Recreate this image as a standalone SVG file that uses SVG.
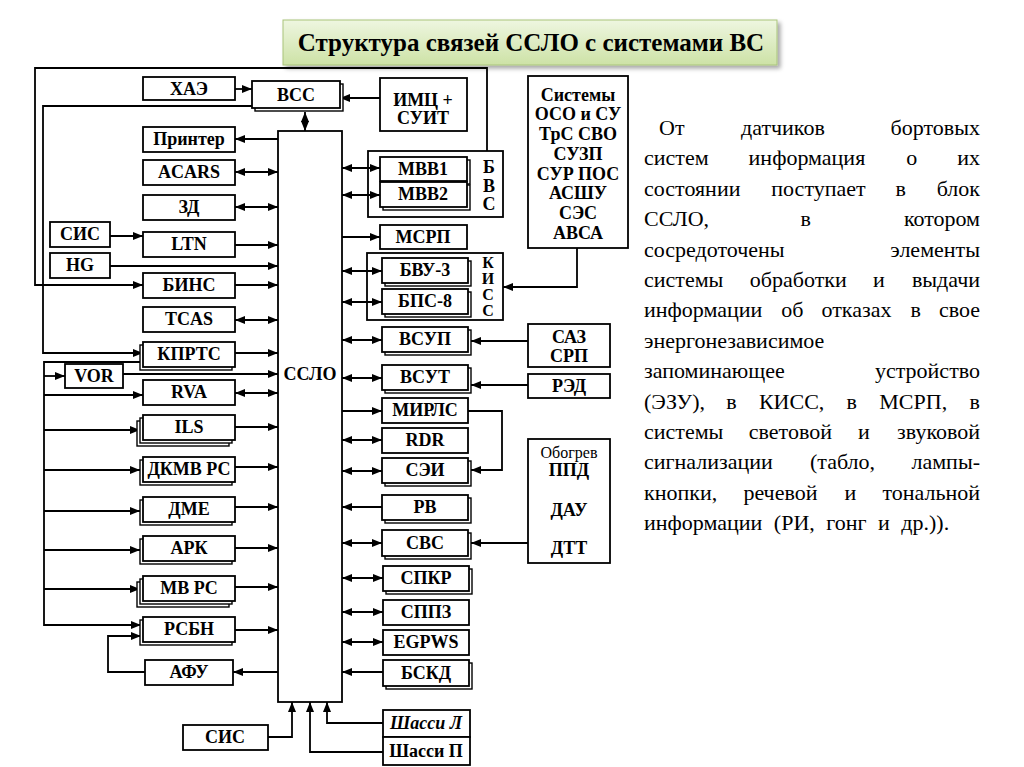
<svg xmlns="http://www.w3.org/2000/svg" width="1024" height="767" viewBox="0 0 1024 767">
<defs>
<linearGradient id="tg" x1="0" y1="0" x2="0" y2="1"><stop offset="0" stop-color="#eef6e0"/><stop offset="1" stop-color="#cde2a6"/></linearGradient>
<filter id="sh" x="-5%" y="-20%" width="115%" height="160%"><feDropShadow dx="3" dy="3" stdDeviation="2" flood-color="#000" flood-opacity="0.35"/></filter>
<marker id="a" viewBox="0 0 10 8" refX="10" refY="4" markerWidth="10" markerHeight="8" orient="auto-start-reverse" markerUnits="userSpaceOnUse"><path d="M0,0 L10,4 L0,8 z" fill="#000"/></marker>
<style>
.b{fill:#fff;stroke:#000;stroke-width:1.8}
.s{fill:#fff;stroke:#000;stroke-width:1.4}
.g{fill:none;stroke:#000;stroke-width:1.8}
.t{font-family:"Liberation Serif","Times New Roman",serif;font-weight:bold;font-size:18px;text-anchor:middle;fill:#000}
.tr{font-family:"Liberation Serif","Times New Roman",serif;font-size:16px;text-anchor:middle;fill:#000}
.v{font-family:"Liberation Serif","Times New Roman",serif;font-weight:bold;font-size:16px;text-anchor:middle;fill:#000}
.p{font-family:"Liberation Serif","Times New Roman",serif;font-size:22px;fill:#000}
.c{fill:none;stroke:#000;stroke-width:1.8}
.e{marker-end:url(#a)}
.d{marker-start:url(#a);marker-end:url(#a)}
</style>
</defs>
<rect width="1024" height="767" fill="#fff"/>

<g id="title">
<rect x="283" y="20" width="494" height="45" fill="url(#tg)" stroke="#a9c47a" stroke-width="1" filter="url(#sh)"/>
<text x="531" y="51" style="font-family:'Liberation Serif','Times New Roman',serif;font-weight:bold;font-size:25px;text-anchor:middle">Структура связей ССЛО с системами ВС</text>
</g>

<g id="connectors">
<path class="c" d="M487,151 V68 H35 V285 H143" marker-end="url(#a)"/>
<path class="c" d="M252,106 H43 V353 H143" marker-end="url(#a)"/>
<path class="c e" d="M235,89 H252"/>
<path class="c e" d="M380,98 H340"/>
<path class="c d" d="M305,112 V131"/>
<path class="c e" d="M278,139 H235"/>
<path class="c d" d="M235,172 H278"/>
<path class="c d" d="M235,207 H278"/>
<path class="c e" d="M110,236 H143"/>
<path class="c e" d="M235,245 H278"/>
<path class="c e" d="M110,266 H278"/>
<path class="c e" d="M235,285 H278"/>
<path class="c d" d="M235,320 H278"/>
<path class="c e" d="M235,353 H278"/>
<path class="c" d="M141,362 H44 V625 H141" marker-end="url(#a)"/>
<path class="c e" d="M44,376 H65"/>
<path class="c e" d="M44,395 H143"/>
<path class="c e" d="M44,430 H140"/>
<path class="c e" d="M44,470 H140"/>
<path class="c e" d="M44,511 H140"/>
<path class="c e" d="M44,550 H140"/>
<path class="c e" d="M44,589 H140"/>
<path class="c e" d="M123,374 H278"/>
<path class="c d" d="M235,393 H278"/>
<path class="c e" d="M235,427 H278"/>
<path class="c e" d="M235,467 H278"/>
<path class="c e" d="M235,507 H278"/>
<path class="c e" d="M235,548 H278"/>
<path class="c e" d="M235,587 H278"/>
<path class="c e" d="M235,630 H278"/>
<path class="c e" d="M278,672 H233"/>
<path class="c" d="M145,672 H108 V636 H141" marker-end="url(#a)"/>
<path class="c" d="M268,737 H292 V702" marker-end="url(#a)"/>
<path class="c" d="M383,752 H310 V702" marker-end="url(#a)"/>
<path class="c" d="M383,723 H327 V702" marker-end="url(#a)"/>
<path class="c d" d="M342,168 H380"/>
<path class="c d" d="M342,195 H380"/>
<path class="c e" d="M342,237 H380"/>
<path class="c d" d="M342,271 H382"/>
<path class="c d" d="M342,302 H382"/>
<path class="c" d="M577,248 V287 H503" marker-end="url(#a)"/>
<path class="c d" d="M342,340 H382"/>
<path class="c e" d="M528,341 H471"/>
<path class="c d" d="M342,378 H382"/>
<path class="c e" d="M528,385 H471"/>
<path class="c e" d="M342,411 H382"/>
<path class="c" d="M468,411 H502 V470 H471" marker-end="url(#a)"/>
<path class="c d" d="M342,440 H382"/>
<path class="c d" d="M342,471 H382"/>
<path class="c e" d="M382,507 H342"/>
<path class="c d" d="M342,543 H382"/>
<path class="c e" d="M528,543 H471"/>
<path class="c d" d="M342,578 H383"/>
<path class="c d" d="M342,612 H383"/>
<path class="c d" d="M342,642 H383"/>
<path class="c e" d="M383,672 H342"/>
</g>

<g id="n-sslo"><rect class="b" x="278" y="131" width="64" height="571"/><text class="t" x="310" y="380">ССЛО</text></g>
<g id="n-hae"><rect class="b" x="143" y="77" width="92" height="23"/><text class="t" x="189" y="95">ХАЭ</text></g>
<g id="n-vss"><rect class="s" x="255" y="84" width="88" height="27"/><rect class="b" x="252" y="81" width="88" height="27"/><text class="t" x="296" y="101">ВСС</text></g>
<g id="n-imc"><rect class="b" x="380" y="78" width="87" height="53"/><text class="t" x="423" y="106">ИМЦ +</text><text class="t" x="423" y="124">СУИТ</text></g>
<g id="n-printer"><rect class="b" x="143" y="127" width="92" height="25"/><text class="t" x="189" y="145">Принтер</text></g>
<g id="n-acars"><rect class="b" x="143" y="160" width="92" height="25"/><text class="t" x="189" y="178">ACARS</text></g>
<g id="n-zd"><rect class="b" x="143" y="195" width="92" height="25"/><text class="t" x="189" y="213">ЗД</text></g>
<g id="n-sis1"><rect class="b" x="50" y="222" width="60" height="25"/><text class="t" x="80" y="240">СИС</text></g>
<g id="n-ltn"><rect class="b" x="143" y="232" width="92" height="25"/><text class="t" x="189" y="250">LTN</text></g>
<g id="n-hg"><rect class="b" x="50" y="253" width="60" height="25"/><text class="t" x="80" y="271">HG</text></g>
<g id="n-bins"><rect class="b" x="143" y="273" width="92" height="25"/><text class="t" x="189" y="291">БИНС</text></g>
<g id="n-tcas"><rect class="b" x="143" y="307" width="92" height="25"/><text class="t" x="189" y="325">TCAS</text></g>
<g id="n-kprts"><rect class="s" x="140" y="345" width="92" height="25"/><rect class="b" x="143" y="342" width="92" height="25"/><text class="t" x="189" y="360">КПРТС</text></g>
<g id="n-vor"><rect class="b" x="65" y="364" width="58" height="24"/><text class="t" x="94" y="382">VOR</text></g>
<g id="n-rva"><rect class="b" x="143" y="380" width="92" height="25"/><text class="t" x="189" y="398">RVA</text></g>
<g id="n-ils"><rect class="s" x="137" y="421" width="92" height="25"/><rect class="s" x="140" y="418" width="92" height="25"/><rect class="b" x="143" y="415" width="92" height="25"/><text class="t" x="189" y="433">ILS</text></g>
<g id="n-dkmv"><rect class="s" x="140" y="460" width="92" height="25"/><rect class="b" x="143" y="457" width="92" height="25"/><text class="t" x="189" y="475">ДКМВ РС</text></g>
<g id="n-dme"><rect class="s" x="140" y="500" width="92" height="25"/><rect class="b" x="143" y="497" width="92" height="25"/><text class="t" x="189" y="515">ДМЕ</text></g>
<g id="n-ark"><rect class="s" x="140" y="539" width="92" height="25"/><rect class="b" x="143" y="536" width="92" height="25"/><text class="t" x="189" y="554">АРК</text></g>
<g id="n-mvrs"><rect class="s" x="137" y="582" width="92" height="25"/><rect class="s" x="140" y="579" width="92" height="25"/><rect class="b" x="143" y="576" width="92" height="25"/><text class="t" x="189" y="594">МВ РС</text></g>
<g id="n-rsbn"><rect class="s" x="140" y="620" width="92" height="25"/><rect class="b" x="143" y="617" width="92" height="25"/><text class="t" x="189" y="635">РСБН</text></g>
<g id="n-afu"><rect class="b" x="145" y="660" width="88" height="25"/><text class="t" x="189" y="678">АФУ</text></g>
<g id="n-sis2"><rect class="b" x="183" y="725" width="85" height="25"/><text class="t" x="225" y="743">СИС</text></g>

<g id="n-bvs"><rect class="g" x="368" y="151" width="135" height="66"/><text class="t" x="489" y="173">Б</text><text class="t" x="489" y="192">В</text><text class="t" x="489" y="210">С</text></g>
<g id="n-mvv1"><rect class="s" x="383" y="160" width="87" height="24"/><rect class="b" x="380" y="157" width="87" height="24"/><text class="t" x="423" y="175">МВВ1</text></g>
<g id="n-mvv2"><rect class="s" x="383" y="185" width="87" height="25"/><rect class="b" x="380" y="182" width="87" height="25"/><text class="t" x="423" y="200">МВВ2</text></g>
<g id="n-msrp"><rect class="b" x="380" y="225" width="87" height="24"/><text class="t" x="423" y="243">МСРП</text></g>
<g id="n-kiss"><rect class="g" x="367" y="253" width="136" height="67"/><text class="v" x="488" y="268">К</text><text class="v" x="488" y="284">И</text><text class="v" x="488" y="300">С</text><text class="v" x="488" y="316">С</text></g>
<g id="n-bvu"><rect class="s" x="385" y="261" width="86" height="25"/><rect class="b" x="382" y="258" width="86" height="25"/><text class="t" x="425" y="276">БВУ-3</text></g>
<g id="n-bps"><rect class="s" x="385" y="292" width="86" height="25"/><rect class="b" x="382" y="289" width="86" height="25"/><text class="t" x="425" y="307">БПС-8</text></g>
<g id="n-vsup"><rect class="s" x="385" y="330" width="86" height="25"/><rect class="b" x="382" y="327" width="86" height="25"/><text class="t" x="425" y="345">ВСУП</text></g>
<g id="n-vsut"><rect class="s" x="385" y="368" width="86" height="25"/><rect class="b" x="382" y="365" width="86" height="25"/><text class="t" x="425" y="383">ВСУТ</text></g>
<g id="n-mirls"><rect class="b" x="382" y="398" width="86" height="25"/><text class="t" x="425" y="416">МИРЛС</text></g>
<g id="n-rdr"><rect class="b" x="382" y="428" width="86" height="25"/><text class="t" x="425" y="446">RDR</text></g>
<g id="n-sei"><rect class="s" x="385" y="461" width="86" height="25"/><rect class="b" x="382" y="458" width="86" height="25"/><text class="t" x="425" y="476">СЭИ</text></g>
<g id="n-rv"><rect class="s" x="385" y="498" width="86" height="25"/><rect class="b" x="382" y="495" width="86" height="25"/><text class="t" x="425" y="513">РВ</text></g>
<g id="n-svs"><rect class="s" x="385" y="533" width="86" height="26"/><rect class="b" x="382" y="530" width="86" height="26"/><text class="t" x="425" y="549">СВС</text></g>
<g id="n-spkr"><rect class="s" x="386" y="569" width="86" height="25"/><rect class="b" x="383" y="566" width="86" height="25"/><text class="t" x="426" y="584">СПКР</text></g>
<g id="n-sppz"><rect class="b" x="383" y="600" width="86" height="25"/><text class="t" x="426" y="618">СППЗ</text></g>
<g id="n-egpws"><rect class="b" x="383" y="630" width="86" height="25"/><text class="t" x="426" y="648">EGPWS</text></g>
<g id="n-bskd"><rect class="s" x="386" y="663" width="86" height="26"/><rect class="b" x="383" y="660" width="86" height="26"/><text class="t" x="426" y="679">БСКД</text></g>
<g id="n-shl"><rect class="b" x="383" y="710" width="87" height="27"/><text class="t" x="426" y="729" font-style="italic">Шасси Л</text></g>
<g id="n-shp"><rect class="b" x="383" y="737" width="87" height="28"/><text class="t" x="426" y="757">Шасси П</text></g>

<g id="n-systems"><rect class="b" x="528" y="76" width="100" height="172"/>
<text class="t" x="578" y="101" font-size="17">Системы</text>
<text class="t" x="578" y="120" font-size="17">ОСО и СУ</text>
<text class="t" x="578" y="140" font-size="17">ТрС СВО</text>
<text class="t" x="578" y="160" font-size="17">СУЗП</text>
<text class="t" x="578" y="180" font-size="17">СУР ПОС</text>
<text class="t" x="578" y="199" font-size="17">АСШУ</text>
<text class="t" x="578" y="219" font-size="17">СЭС</text>
<text class="t" x="578" y="239" font-size="17">АВСА</text></g>
<g id="n-saz"><rect class="b" x="528" y="324" width="82" height="43"/><text class="t" x="569" y="343">САЗ</text><text class="t" x="569" y="362">СРП</text></g>
<g id="n-red"><rect class="b" x="528" y="374" width="82" height="24"/><text class="t" x="569" y="392">РЭД</text></g>
<g id="n-obogrev"><rect class="b" x="528" y="439" width="82" height="124"/><text class="tr" x="569" y="458">Обогрев</text><text class="t" x="569" y="476">ППД</text><text class="t" x="569" y="516">ДАУ</text><text class="t" x="569" y="554">ДТТ</text></g>

<g id="description" class="p">
<text y="135"><tspan x="659">От</tspan><tspan x="741">датчиков</tspan><tspan x="980" text-anchor="end">бортовых</tspan></text>
<text y="165.4"><tspan x="644">систем</tspan><tspan x="748.6">информация</tspan><tspan x="906.3">о</tspan><tspan x="980" text-anchor="end">их</tspan></text>
<text y="195.8"><tspan x="644">состоянии</tspan><tspan x="771.3">поступает</tspan><tspan x="895.6">в</tspan><tspan x="980" text-anchor="end">блок</tspan></text>
<text y="226.2"><tspan x="644">ССЛО,</tspan><tspan x="800.5">в</tspan><tspan x="980" text-anchor="end">котором</tspan></text>
<text y="256.6"><tspan x="644">сосредоточены</tspan><tspan x="980" text-anchor="end">элементы</tspan></text>
<text y="287"><tspan x="644">системы</tspan><tspan x="749.8">обработки</tspan><tspan x="873">и</tspan><tspan x="980" text-anchor="end">выдачи</tspan></text>
<text y="317.4"><tspan x="644">информации</tspan><tspan x="781.2">об</tspan><tspan x="821.5">отказах</tspan><tspan x="910.4">в</tspan><tspan x="980" text-anchor="end">свое</tspan></text>
<text y="347.8" x="644">энергонезависимое</text>
<text y="378.2"><tspan x="644">запоминающее</tspan><tspan x="980" text-anchor="end">устройство</tspan></text>
<text y="408.6"><tspan x="644">(ЭЗУ),</tspan><tspan x="726.2">в</tspan><tspan x="758.9">КИСС,</tspan><tspan x="846.6">в</tspan><tspan x="879.3">МСРП,</tspan><tspan x="980" text-anchor="end">в</tspan></text>
<text y="439"><tspan x="644">системы</tspan><tspan x="748.8">световой</tspan><tspan x="857.9">и</tspan><tspan x="980" text-anchor="end">звуковой</tspan></text>
<text y="469.4"><tspan x="644">сигнализации</tspan><tspan x="810">(табло,</tspan><tspan x="980" text-anchor="end">лампы-</tspan></text>
<text y="499.8"><tspan x="644">кнопки,</tspan><tspan x="743.4">речевой</tspan><tspan x="844.4">и</tspan><tspan x="980" text-anchor="end">тональной</tspan></text>
<text y="530.2" x="644" word-spacing="6">информации (РИ, гонг и др.)).</text>
</g>
</svg>
